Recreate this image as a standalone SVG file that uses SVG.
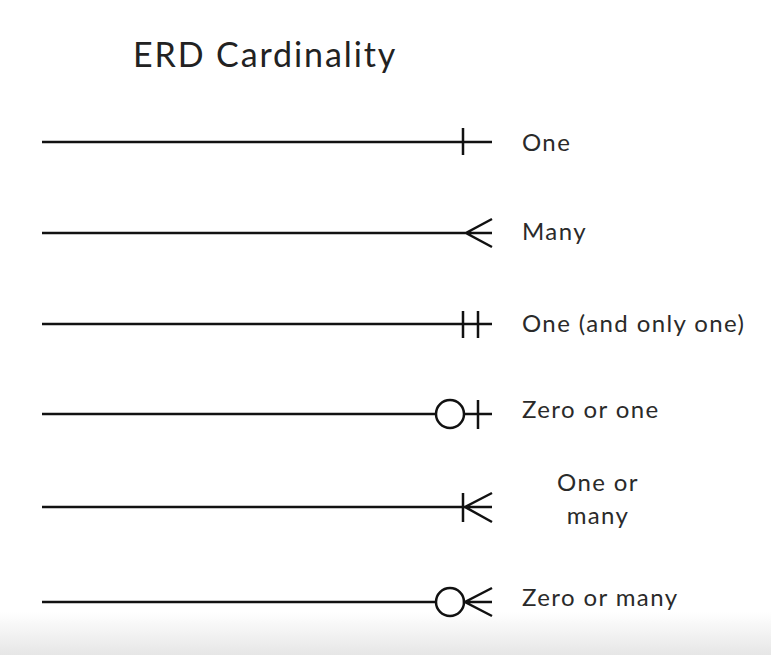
<svg xmlns="http://www.w3.org/2000/svg" width="771" height="655" viewBox="0 0 771 655">
<style>
.ln{stroke:#111;stroke-width:2.5;fill:none;stroke-linecap:butt}
.lbl{font-family:Lato,"Noto Sans","Liberation Sans",sans-serif;font-size:24px;letter-spacing:1.4px;fill:#2a2a2a}
.title{font-family:Lato,"Noto Sans","Liberation Sans",sans-serif;font-size:34px;letter-spacing:1.9px;fill:#222}
</style>
<defs>
<linearGradient id="bot" x1="0" y1="0" x2="0" y2="1">
<stop offset="0" stop-color="#ffffff"/>
<stop offset="1" stop-color="#e6e6e6"/>
</linearGradient>
</defs>
<rect width="771" height="655" fill="#fff"/>
<rect x="0" y="612" width="771" height="43" fill="url(#bot)"/>
<text class="title" x="133" y="67">ERD Cardinality</text>
<g id="connectors">
<g id="one"><path class="ln" d="M42 142H492M463 128V155"/></g>
<g id="many"><path class="ln" d="M42 233H492M492 219L466 233L492 247"/></g>
<g id="one-only"><path class="ln" d="M42 324H492M463 311V338M478 311V338"/></g>
<g id="zero-one"><path class="ln" d="M42 414H436M464 414H492M478 400V429"/><circle class="ln" cx="450" cy="414" r="14"/></g>
<g id="one-many"><path class="ln" d="M42 507H492M463 493V522M492 493L465 507L492 522"/></g>
<g id="zero-many"><path class="ln" d="M42 602H436M464 602H492M492 588L465 602L492 616"/><circle class="ln" cx="450" cy="602" r="14"/></g>
</g>
<g id="labels">
<text class="lbl" x="522" y="151">One</text>
<text class="lbl" x="522" y="240">Many</text>
<text class="lbl" x="522" y="332">One (and only one)</text>
<text class="lbl" x="522" y="418">Zero or one</text>
<text class="lbl" x="598" y="491" text-anchor="middle">One or</text>
<text class="lbl" x="598" y="524" text-anchor="middle">many</text>
<text class="lbl" x="522" y="606">Zero or many</text>
</g>
</svg>
